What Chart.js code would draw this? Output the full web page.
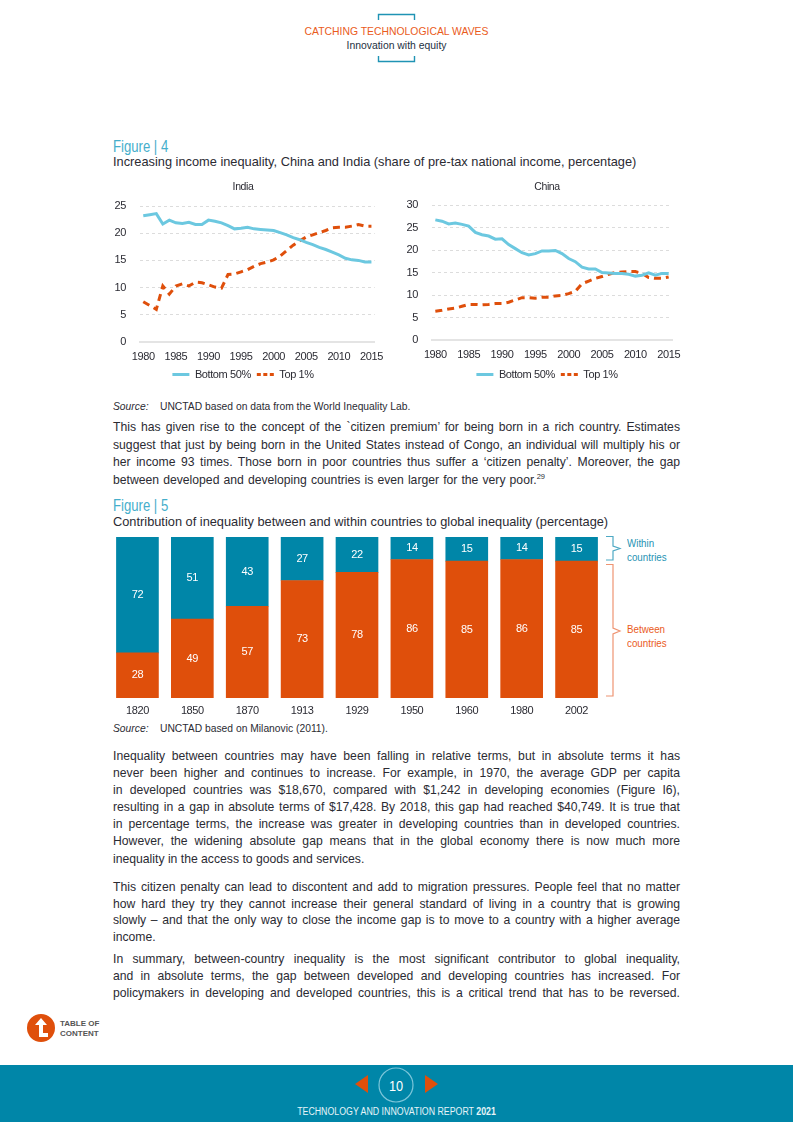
<!DOCTYPE html>
<html>
<head>
<meta charset="utf-8">
<script src="https://cdn.jsdelivr.net/npm/chart.js@4"></script>
<style>
html,body{margin:0;padding:0;background:#fff}
#page{position:relative;width:793px;height:1122px;overflow:hidden;font-family:"Liberation Sans",Arial,sans-serif;color:#2b2b33}
#page>*{position:absolute}
canvas{display:block}
.fig{left:113px;font-size:16px;color:#45aecb;transform:scaleX(.82);transform-origin:left;white-space:nowrap}
.sub{left:113px;font-size:12.8px;white-space:nowrap}
.src{left:113px;font-size:10.3px;white-space:nowrap}
.src i{display:inline-block;width:47px}
.p{left:113px;width:567px;font-size:12.2px}
.p div{text-align:justify;text-align-last:justify;white-space:nowrap}
.p div.end{text-align-last:left}
.p sup{font-size:7.5px;line-height:0}
.side{font-size:11.5px;line-height:14px;transform:scaleX(.85);transform-origin:left;white-space:nowrap}
</style>
</head>
<body>
<div id="page">
  <svg style="left:0;top:0" width="793" height="1122">
    <path d="M378.5 20V14.5H414.5V20M378.5 56V61.5H414.5V56" fill="none" stroke="#1f93b4" stroke-width="1.4"/>
    <path d="M606 536.5H613V546L620 548.5L613 551V560H606" fill="none" stroke="#4ea9c4" stroke-width="1.2"/>
    <path d="M606 564.5H613V628L620 631L613 634V696H606" fill="none" stroke="#ee9472" stroke-width="1.2"/>
    <rect x="0" y="1065" width="793" height="57" fill="#0086a8"/>
    <circle cx="396" cy="1085" r="17" fill="none" stroke="#7cc6da" stroke-width="1.2"/>
    <path d="M368 1075V1093L355 1084ZM425 1075V1093L438 1084Z" fill="#df4f0b"/>
    <ellipse cx="41" cy="1028" rx="14" ry="14" fill="#df4f0b"/>
    <path d="M41 1018L35 1025H39V1037H48V1033H43V1025H47Z" fill="#fff"/>
  </svg>

  <div style="left:0;width:793px;top:26px;text-align:center;font-size:10.4px;color:#ea5b1c;white-space:nowrap">CATCHING TECHNOLOGICAL WAVES</div>
  <div style="left:0;width:793px;top:40px;text-align:center;font-size:10.4px;color:#24303f;white-space:nowrap">Innovation with equity</div>

  <div class="fig" style="top:138px">Figure | 4</div>
  <div class="sub" style="top:153.5px">Increasing income inequality, China and India (share of pre-tax national income, percentage)</div>
  <canvas id="indiaChart" width="296" height="212" style="left:95px;top:178px"></canvas>
  <canvas id="chinaChart" width="300" height="212" style="left:397px;top:178px"></canvas>
  <div class="src" style="top:401px"><i>Source:</i>UNCTAD based on data from the World Inequality Lab.</div>

  <div class="p" style="top:419px;line-height:17.6px">
    <div>This has given rise to the concept of the `citizen premium’ for being born in a rich country. Estimates</div>
    <div>suggest that just by being born in the United States instead of Congo, an individual will multiply his or</div>
    <div>her income 93 times. Those born in poor countries thus suffer a ‘citizen penalty’. Moreover, the gap</div>
    <div class="end" style="word-spacing:.7px">between developed and developing countries is even larger for the very poor.<sup>29</sup></div>
  </div>

  <div class="fig" style="top:497px">Figure | 5</div>
  <div class="sub" style="top:513.5px">Contribution of inequality between and within countries to global inequality (percentage)</div>
  <canvas id="shareChart" width="494" height="185" style="left:110px;top:537px"></canvas>
  <div class="side" style="left:627px;top:536px;color:#1f93b4">Within<br>countries</div>
  <div class="side" style="left:627px;top:622px;color:#ea5b1c">Between<br>countries</div>
  <div class="src" style="top:723px"><i>Source:</i>UNCTAD based on Milanovic (2011).</div>

  <div class="p" style="top:748px;line-height:17.1px">
    <div>Inequality between countries may have been falling in relative terms, but in absolute terms it has</div>
    <div>never been higher and continues to increase. For example, in 1970, the average GDP per capita</div>
    <div>in developed countries was $18,670, compared with $1,242 in developing economies (Figure I6),</div>
    <div>resulting in a gap in absolute terms of $17,428. By 2018, this gap had reached $40,749. It is true that</div>
    <div>in percentage terms, the increase was greater in developing countries than in developed countries.</div>
    <div>However, the widening absolute gap means that in the global economy there is now much more</div>
    <div class="end">inequality in the access to goods and services.</div>
  </div>
  <div class="p" style="top:879px;line-height:16.6px">
    <div>This citizen penalty can lead to discontent and add to migration pressures. People feel that no matter</div>
    <div>how hard they try they cannot increase their general standard of living in a country that is growing</div>
    <div>slowly – and that the only way to close the income gap is to move to a country with a higher average</div>
    <div class="end">income.</div>
  </div>
  <div class="p" style="top:951px;line-height:17.1px">
    <div>In summary, between-country inequality is the most significant contributor to global inequality,</div>
    <div>and in absolute terms, the gap between developed and developing countries has increased. For</div>
    <div>policymakers in developing and developed countries, this is a critical trend that has to be reversed.</div>
  </div>

  <div style="left:60px;top:1019px;font-size:8px;line-height:10px;font-weight:bold;color:#555;white-space:nowrap">TABLE OF<br>CONTENT</div>
  <div style="left:379px;width:34px;top:1077px;text-align:center;font-size:15px;color:#fff;transform:scaleX(.85)">10</div>
  <div style="left:0;width:793px;top:1105.5px;text-align:center;font-size:10px;color:#e6f4f8;white-space:nowrap;transform:scaleX(.88)">TECHNOLOGY AND INNOVATION REPORT <b>2021</b></div>
</div>

<script>
var years = ['1980','1981','1982','1983','1984','1985','1986','1987','1988','1989','1990','1991','1992','1993','1994','1995','1996','1997','1998','1999','2000','2001','2002','2003','2004','2005','2006','2007','2008','2009','2010','2011','2012','2013','2014','2015'];
var indiaBottom = [23.2,23.4,23.6,21.7,22.4,21.9,21.8,22.0,21.6,21.6,22.4,22.2,21.9,21.4,20.8,20.9,21.1,20.8,20.7,20.6,20.5,20.1,19.7,19.2,18.8,18.3,17.9,17.4,17.0,16.5,16.0,15.4,15.1,15.0,14.7,14.7];
var indiaTop = [7.4,6.7,6.0,10.3,8.8,10.3,10.7,10.3,11.0,10.9,10.5,10.1,9.9,12.4,12.5,12.9,13.3,13.9,14.4,14.7,15.1,15.8,16.8,17.8,18.6,19.3,19.7,20.1,20.5,21.0,21.1,21.1,21.3,21.6,21.3,21.3];
var chinaBottom = [26.7,26.4,25.8,26.0,25.7,25.3,23.9,23.4,23.1,22.4,22.5,21.2,20.3,19.4,18.9,19.2,19.8,19.8,19.9,19.2,18.1,17.4,16.2,15.8,15.8,15.0,14.9,14.8,14.8,14.6,14.2,14.4,14.9,14.4,14.8,14.8];
var chinaTop = [6.4,6.6,6.9,7.1,7.5,7.9,7.9,7.8,7.9,8.1,8.1,8.4,8.9,9.4,9.4,9.3,9.5,9.5,9.8,9.9,10.3,10.8,12.5,13.1,13.7,14.1,14.6,15.0,15.1,15.2,15.2,14.8,13.9,13.7,13.7,14.0];

var periods = ['1820','1850','1870','1913','1929','1950','1960','1980','2002'];
var betweenShare = [28,49,57,73,78,86,85,86,85];
var withinShare = [72,51,43,27,22,14,15,14,15];

var chartFont = '"Liberation Sans", sans-serif';
var inkColor = '#2b2b33';
var blueLine = '#6cc8e0';
var orangeLine = '#df4f0b';

// no narrow font installed, so tighten the text a bit
var tightText = {
    id: 'tightText',
    beforeLayout: function (chart) { chart.ctx.letterSpacing = '-0.4px'; },
    beforeDraw: function (chart) { chart.ctx.letterSpacing = '-0.4px'; }
};

function lineChart(id, title, bottom, top, maxY, opts) {
    return new Chart(document.getElementById(id).getContext('2d'), {
        type: 'line',
        data: {
            labels: years,
            datasets: [
                {label: 'Bottom 50%', data: bottom, borderColor: blueLine, borderWidth: 3, pointRadius: 0, tension: 0},
                {label: 'Top 1%', data: top, borderColor: orangeLine, borderWidth: 3, borderDash: [7, 5], pointRadius: 0, tension: 0}
            ]
        },
        plugins: [tightText],
        options: {
            responsive: false,
            animation: false,
            plugins: {
                title: {display: true, text: title, color: inkColor, font: {family: chartFont, size: 10.5, weight: 'normal'}, padding: {top: 3, bottom: opts.titleGap}},
                legend: {
                    position: 'bottom',
                    labels: {
                        color: inkColor,
                        font: {family: chartFont, size: 11},
                        usePointStyle: true,
                        pointStyleWidth: 17,
                        boxHeight: 10,
                        padding: 6,
                        generateLabels: function (chart) {
                            return chart.data.datasets.map(function (d, i) {
                                return {text: d.label, datasetIndex: i, strokeStyle: d.borderColor, fillStyle: d.borderColor, lineWidth: 3, lineDash: d.borderDash ? [4, 2.5] : [], pointStyle: 'line', fontColor: inkColor};
                            });
                        }
                    }
                }
            },
            scales: {
                x: {
                    offset: true,
                    grid: {display: false, drawTicks: false},
                    border: {color: '#e4e4e4', width: 2},
                    ticks: {
                        autoSkip: false, maxRotation: 0, color: inkColor, padding: 8,
                        font: {family: chartFont, size: 11},
                        callback: function (v, i) { return i % 5 === 0 ? years[i] : ''; }
                    },
                    afterFit: function (s) { s.height = opts.xHeight; }
                },
                y: {
                    min: 0, max: maxY,
                    grid: {color: '#dcdcdc', drawTicks: false},
                    border: {display: false, dash: [3, 3]},
                    ticks: {stepSize: 5, color: inkColor, padding: 14, font: {family: chartFont, size: 11}},
                    afterFit: function (s) { s.width = opts.yWidth; }
                },
                // empty axis, only keeps the plot clear of the right edge so title and legend stay centred on the canvas
                pad: {
                    type: 'linear',
                    position: 'right',
                    grid: {display: false},
                    border: {display: false},
                    ticks: {display: false},
                    afterFit: function (s) { s.width = opts.right; }
                }
            }
        }
    });
}

lineChart('indiaChart', 'India', indiaBottom, indiaTop, 25, {right: 9, titleGap: 12.4, xHeight: 21, yWidth: 45});
lineChart('chinaChart', 'China', chinaBottom, chinaTop, 30, {right: 25, titleGap: 11.4, xHeight: 23, yWidth: 35});

// value labels inside the stacked bars
var barValues = {
    id: 'barValues',
    afterDatasetsDraw: function (chart) {
        var ctx = chart.ctx;
        ctx.save();
        ctx.fillStyle = '#fff';
        ctx.font = '11px ' + chartFont;
        ctx.textAlign = 'center';
        ctx.textBaseline = 'middle';
        chart.data.datasets.forEach(function (d, i) {
            chart.getDatasetMeta(i).data.forEach(function (bar, j) {
                ctx.fillText(d.data[j], bar.x, (bar.y + bar.base) / 2);
            });
        });
        ctx.restore();
    }
};

new Chart(document.getElementById('shareChart').getContext('2d'), {
    type: 'bar',
    data: {
        labels: periods,
        datasets: [
            {label: 'Between countries', data: betweenShare, backgroundColor: '#df4f0b', barThickness: 42},
            {label: 'Within countries', data: withinShare, backgroundColor: '#0086a8', barThickness: 42}
        ]
    },
    plugins: [tightText, barValues],
    options: {
        responsive: false,
        animation: false,
        plugins: {legend: {display: false}, tooltip: {enabled: false}},
        scales: {
            x: {
                stacked: true,
                grid: {display: false, drawTicks: false},
                border: {display: false},
                ticks: {color: inkColor, padding: 6, maxRotation: 0, font: {family: chartFont, size: 11}},
                afterFit: function (s) { s.height = 24; }
            },
            y: {stacked: true, min: 0, max: 100, display: false}
        }
    }
});
</script>
</body>
</html>
